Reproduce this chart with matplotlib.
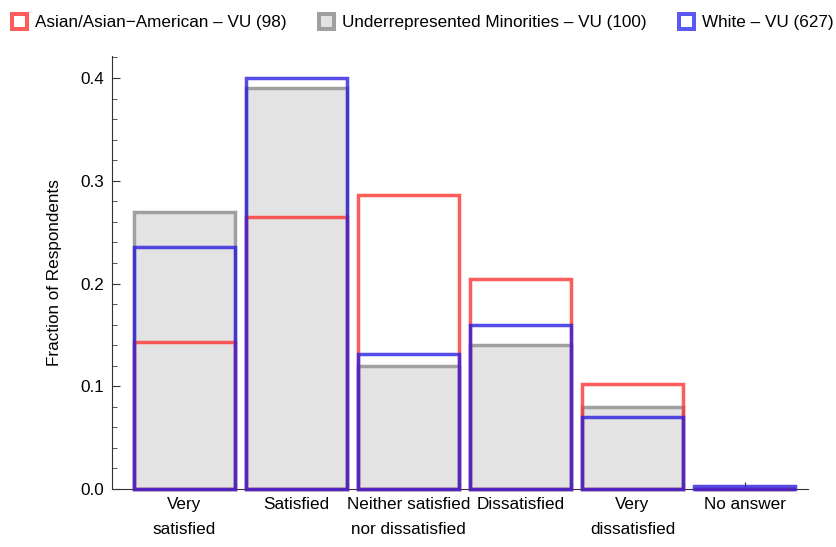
import numpy as np
import matplotlib.pyplot as plt
from matplotlib.patches import Rectangle
from matplotlib.ticker import MultipleLocator

plt.rcParams['font.family'] = ['Liberation Sans', 'DejaVu Sans']

# survey answers
categories = ["Very\nsatisfied", "Satisfied", "Neither satisfied\nnor dissatisfied",
              "Dissatisfied", "Very\ndissatisfied", "No answer"]

# fraction of respondents per group
asian = [0.143, 0.265, 0.286, 0.204, 0.102, 0.0]
urm = [0.27, 0.39, 0.12, 0.14, 0.08, 0.0]
white = [0.236, 0.400, 0.131, 0.160, 0.070, 0.003]

labels = ["Asian/Asian\u2212American \u2013 VU (98)",
          "Underrepresented Minorities \u2013 VU (100)",
          "White \u2013 VU (627)"]

RED = '#FF3333'
GRAY_EDGE = '#A0A0A0'
GRAY_FILL = '#E3E3E3'
BLUE = '#2A1EE0'

fig = plt.figure(figsize=(8.37, 5.47), dpi=100)
ax = fig.add_axes([0.1338, 0.106, 0.8316, 0.7916])

x = np.arange(len(categories))
w = 0.9
lw = 2.5

ax.bar(x, urm, width=w, color=GRAY_FILL, edgecolor=GRAY_EDGE, linewidth=lw, zorder=2, clip_on=False)
ax.bar(x, asian, width=w, fill=False, edgecolor=RED, alpha=0.8, linewidth=lw, zorder=3, clip_on=False)
ax.bar(x, white, width=w, fill=False, edgecolor=BLUE, alpha=0.8, linewidth=lw, zorder=4, clip_on=False)

ax.set_xlim(-0.647, 5.567)
ax.set_ylim(0, 0.4214)

ax.set_xticks(x)
ax.set_xticklabels(categories, fontsize=12.3, linespacing=1.8)
ax.yaxis.set_major_locator(MultipleLocator(0.1))
ax.yaxis.set_minor_locator(MultipleLocator(0.02))
ax.set_yticks([0.0, 0.1, 0.2, 0.3, 0.4])
ax.set_yticklabels(["0.0", "0.1", "0.2", "0.3", "0.4"], fontsize=12.3)

ax.tick_params(axis='x', direction='in', length=5, width=0.8, pad=6, color='#333333')
ax.tick_params(axis='y', which='major', direction='in', length=6, width=0.8, pad=6, color='#333333')
ax.tick_params(axis='y', which='minor', direction='in', length=3.5, width=0.7, color='#555555')

for s in ['top', 'right']:
    ax.spines[s].set_visible(False)
for s in ['left', 'bottom']:
    ax.spines[s].set_linewidth(0.8)
    ax.spines[s].set_color('#333333')

ax.set_ylabel("Fraction of Respondents", fontsize=12.3, labelpad=13)

# legend drawn by hand across the top
leg_x = [12, 319, 679]
txt_x = [35, 342, 702]
sq_fill = ['white', GRAY_FILL, 'white']
sq_edge = ['#FF5C5C', GRAY_EDGE, '#5959F3']
for lx, tx, lab, fc, ec in zip(leg_x, txt_x, labels, sq_fill, sq_edge):
    fig.add_artist(Rectangle((lx / 837, 1 - 29 / 547), 15 / 837, 15 / 547,
                             transform=fig.transFigure, facecolor=fc,
                             edgecolor=ec, linewidth=2.9))
    fig.text(tx / 837, 1 - 22 / 547, lab, fontsize=12.3, va='center', ha='left')

fig.savefig("out.png", dpi=100)
